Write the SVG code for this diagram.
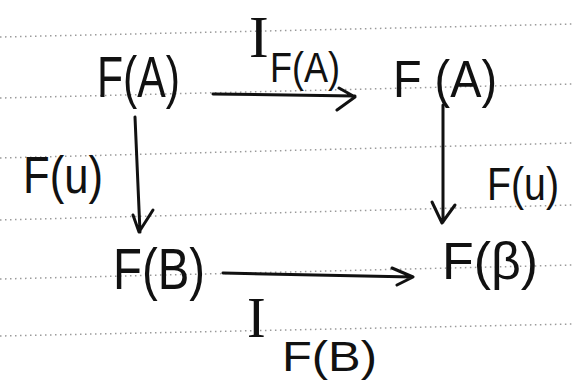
<svg xmlns="http://www.w3.org/2000/svg" width="573" height="382" viewBox="0 0 573 382">
<style>
.rule{stroke:#9a9a9a;stroke-width:1.5;stroke-dasharray:1.5 3.5;fill:none}
.t{font-family:"Liberation Sans",Arial,sans-serif;fill:#111}
.i{font-family:"Liberation Serif","Times New Roman",serif;fill:#111}
.ln{stroke:#111;stroke-width:3;fill:none;stroke-linecap:round;stroke-linejoin:round}
</style>
<rect width="573" height="382" fill="#ffffff"/>
<g id="paper">
<line class="rule" x1="0" y1="37" x2="573" y2="24"/>
<line class="rule" x1="0" y1="98" x2="573" y2="84"/>
<line class="rule" x1="0" y1="158" x2="573" y2="143"/>
<line class="rule" x1="0" y1="220" x2="573" y2="205"/>
<line class="rule" x1="0" y1="279" x2="573" y2="265"/>
<line class="rule" x1="0" y1="336" x2="573" y2="324"/>
</g>
<g id="connectors">
<g id="e-top"><path class="ln" d="M213 94 L355 96 M339 88 L355 97 L337 110"/></g>
<g id="e-left"><path class="ln" d="M135 117 L140 232 M133 215 L139 232 L153 210"/></g>
<g id="e-right"><path class="ln" d="M443 105 L443 222 M432 202 L442 223 L455 205"/></g>
<g id="e-bottom"><path class="ln" d="M223 273 L413 277 M392 268 L413 277 L397 285"/></g>
</g>
<g id="n-FA-left"><text class="t" x="97" y="97" font-size="58" textLength="83" lengthAdjust="spacingAndGlyphs">F(A)</text></g>
<g id="n-FA-right"><text class="t" x="393" y="97" font-size="52" textLength="104" lengthAdjust="spacingAndGlyphs">F (A)</text></g>
<g id="n-FB-left"><text class="t" x="113" y="289" font-size="58" textLength="92" lengthAdjust="spacingAndGlyphs">F(B)</text></g>
<g id="n-FB-right"><text class="t" x="442" y="279" font-size="52" textLength="96" lengthAdjust="spacingAndGlyphs">F(β)</text></g>
<g id="l-top"><text class="i" x="249" y="57" font-size="59">I</text><text class="t" x="270" y="82" font-size="42" textLength="70" lengthAdjust="spacingAndGlyphs">F(A)</text></g>
<g id="l-left"><text class="t" x="23" y="193" font-size="52" textLength="80" lengthAdjust="spacingAndGlyphs">F(u)</text></g>
<g id="l-right"><text class="t" x="487" y="200" font-size="46" textLength="72" lengthAdjust="spacingAndGlyphs">F(u)</text></g>
<g id="l-bottom"><text class="i" x="247" y="337" font-size="56">I</text><text class="t" x="282" y="371" font-size="42" textLength="95" lengthAdjust="spacingAndGlyphs">F(B)</text></g>
</svg>
